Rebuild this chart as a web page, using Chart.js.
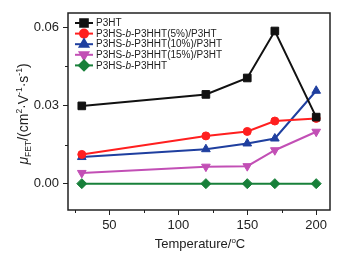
<!DOCTYPE html>
<html>
<head>
<meta charset="utf-8">
<script src="https://cdn.jsdelivr.net/npm/chart.js@4"></script>
<style>
  html, body { margin: 0; padding: 0; background: #fff; }
  #wrap { width: 345px; height: 255px; position: relative; }
</style>
</head>
<body>
<div id="wrap"><canvas id="chart"></canvas></div>
<script>
// ---- data ----
const temperatures = [30, 120, 150, 170, 200];
const p3ht       = [0.0298, 0.0342, 0.0405, 0.0585, 0.0255];
const blend5     = [0.0112, 0.0183, 0.0200, 0.0240, 0.0250];
const blend10    = [0.0102, 0.0132, 0.0154, 0.0173, 0.0356];
const blend15    = [0.0041, 0.0065, 0.0067, 0.0128, 0.0199];
const copolymer  = [0.0000, 0.0000, 0.0000, 0.0000, 0.0000];

// legend names, split so the "b" can be set in italics
const seriesNames = [
    ['P3HT'],
    ['P3HS-', 'b', '-P3HHT(5%)/P3HT'],
    ['P3HS-', 'b', '-P3HHT(10%)/P3HT'],
    ['P3HS-', 'b', '-P3HHT(15%)/P3HT'],
    ['P3HS-', 'b', '-P3HHT']
];

const xMajorTicks = [50, 100, 150, 200];
const xMinorTicks = [25, 75, 125, 175];
const yMajorTicks = [0, 0.03, 0.06];
const yMinorTicks = [0.015, 0.045];

const FONT = '"Liberation Sans", Arial, sans-serif';
const AXIS_COLOR = '#222';

const markerRadius = { rect: 5.4, circle: 4, triangle: 5, rectRot: 5 };

function series(name, values, color, pointStyle, rotation) {
    return {
        label: name.join(''),
        nameParts: name,
        data: temperatures.map((t, i) => ({ x: t, y: values[i] })),
        borderColor: color,
        backgroundColor: color,
        borderWidth: 2,
        pointStyle: pointStyle,
        rotation: rotation || 0,
        pointRadius: markerRadius[pointStyle],
        pointBorderWidth: 1,
        tension: 0
    };
}

// frame box, minor ticks, legend and axis titles
const decorations = {
    id: 'decorations',
    afterDatasetsDraw(chart) {
        const ctx = chart.ctx;
        const a = chart.chartArea;
        const xs = chart.scales.x, ys = chart.scales.y;
        ctx.save();
        ctx.strokeStyle = AXIS_COLOR;
        ctx.lineWidth = 1.5;
        ctx.strokeRect(a.left, a.top, a.right - a.left, a.bottom - a.top);

        ctx.lineWidth = 1;
        ctx.beginPath();
        xMinorTicks.forEach(v => {
            const px = Math.round(xs.getPixelForValue(v)) + 0.5;
            ctx.moveTo(px, a.bottom);
            ctx.lineTo(px, a.bottom + 3);
        });
        yMinorTicks.forEach(v => {
            const py = Math.round(ys.getPixelForValue(v)) + 0.5;
            ctx.moveTo(a.left, py);
            ctx.lineTo(a.left - 3, py);
        });
        ctx.stroke();

        // legend
        const lx = a.left + 7, ly = a.top + 10, rowH = 10.6;
        chart.data.datasets.forEach((ds, i) => {
            const y = ly + i * rowH;
            ctx.strokeStyle = ds.borderColor;
            ctx.lineWidth = 2;
            ctx.beginPath();
            ctx.moveTo(lx, y);
            ctx.lineTo(lx + 18, y);
            ctx.stroke();
            ctx.fillStyle = ds.backgroundColor;
            Chart.helpers.drawPoint(ctx, {
                pointStyle: ds.pointStyle, rotation: ds.rotation,
                radius: ds.pointRadius, borderWidth: 1
            }, lx + 9, y);
            let tx = lx + 21;
            ctx.fillStyle = '#222';
            ctx.textBaseline = 'middle';
            ds.nameParts.forEach((part, k) => {
                ctx.font = (k === 1 ? 'italic ' : '') + '10px ' + FONT;
                ctx.fillText(part, tx, y + 0.5);
                tx += ctx.measureText(part).width;
            });
        });

        // x title
        ctx.fillStyle = '#222';
        ctx.textBaseline = 'alphabetic';
        ctx.font = '13px ' + FONT;
        const t1 = 'Temperature/', t2 = 'o', t3 = 'C';
        const w1 = ctx.measureText(t1).width, w3 = ctx.measureText(t3).width;
        ctx.font = '8px ' + FONT;
        const w2 = ctx.measureText(t2).width;
        let x0 = (a.left + a.right) / 2 - (w1 + w2 + w3) / 2 + 1;
        const by = 248;
        ctx.font = '13px ' + FONT;
        ctx.fillText(t1, x0, by);
        ctx.font = '8px ' + FONT;
        ctx.fillText(t2, x0 + w1, by - 5);
        ctx.font = '13px ' + FONT;
        ctx.fillText(t3, x0 + w1 + w2, by);

        // y title, rotated
        const parts = [
            { t: 'μ', f: 'italic 14px ', dy: 0 },
            { t: 'FET', f: '8.5px ', dy: 3 },
            { t: '/(cm', f: '14px ', dy: 0 },
            { t: '2', f: '8.5px ', dy: -6 },
            { t: '·V', f: '14px ', dy: 0 },
            { t: '-1', f: '8.5px ', dy: -6 },
            { t: '·s', f: '14px ', dy: 0 },
            { t: '-1', f: '8.5px ', dy: -6 },
            { t: ')', f: '14px ', dy: 0 }
        ];
        let total = 0;
        parts.forEach(p => { ctx.font = p.f + FONT; p.w = ctx.measureText(p.t).width; total += p.w; });
        ctx.translate(28, 114);
        ctx.rotate(-Math.PI / 2);
        let px = -total / 2;
        parts.forEach(p => {
            ctx.font = p.f + FONT;
            ctx.fillText(p.t, px, p.dy);
            px += p.w;
        });
        ctx.restore();
    }
};

const chart = new Chart(document.getElementById('chart'), {
    type: 'line',
    data: {
        datasets: [
            series(seriesNames[0], p3ht, '#111111', 'rect'),
            series(seriesNames[1], blend5, '#ff1f1f', 'circle'),
            series(seriesNames[2], blend10, '#1f3f9f', 'triangle'),
            series(seriesNames[3], blend15, '#c24fb5', 'triangle', 180),
            series(seriesNames[4], copolymer, '#18803a', 'rectRot')
        ]
    },
    options: {
        responsive: true,
        maintainAspectRatio: false,
        animation: false,
        layout: { padding: { left: 0, top: 13, right: 15, bottom: 0 } },
        plugins: {
            legend: { display: false },
            tooltip: { enabled: false }
        },
        scales: {
            x: {
                type: 'linear',
                min: 20,
                max: 210,
                afterBuildTicks: s => { s.ticks = xMajorTicks.map(v => ({ value: v })); },
                afterFit: s => { s.height = 45; },
                grid: { drawOnChartArea: false, tickLength: 5, color: AXIS_COLOR, lineWidth: 1 },
                border: { display: false },
                ticks: {
                    color: '#222',
                    padding: 3,
                    maxRotation: 0,
                    font: { family: FONT, size: 13 },
                    callback: v => String(v)
                }
            },
            y: {
                min: -0.0101,
                max: 0.0654,
                afterBuildTicks: s => { s.ticks = yMajorTicks.map(v => ({ value: v })); },
                afterFit: s => { s.width = 68; },
                grid: { drawOnChartArea: false, tickLength: 5, color: AXIS_COLOR, lineWidth: 1 },
                border: { display: false },
                ticks: {
                    color: '#222',
                    padding: 4,
                    font: { family: FONT, size: 13 },
                    callback: v => v.toFixed(2)
                }
            }
        }
    },
    plugins: [decorations]
});
</script>
</body>
</html>
